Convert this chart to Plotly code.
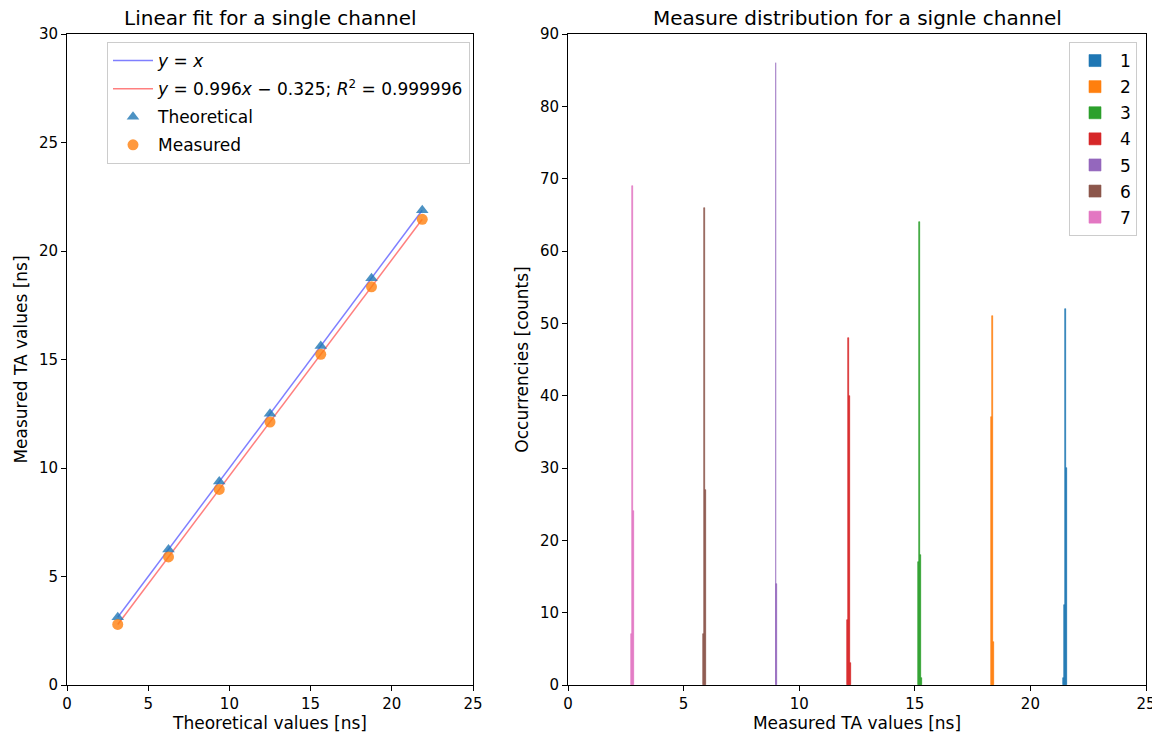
import plotly.graph_objects as go

# ---- Data ----
theoretical = [3.125, 6.25, 9.375, 12.5, 15.625, 18.75, 21.875]
measured = [2.79, 5.90, 9.01, 12.12, 15.24, 18.35, 21.46]
fit_slope = 0.996
fit_intercept = -0.325

channels = ["1", "2", "3", "4", "5", "6", "7"]
# histogram bins per channel: edges (ns) and counts
hist_edges = {
    "1": [21.405, 21.448, 21.49, 21.52, 21.58],
    "2": [18.275, 18.333, 18.362, 18.405],
    "3": [15.145, 15.203, 15.217, 15.275, 15.319],
    "4": [12.057, 12.10, 12.14, 12.20, 12.23],
    "5": [8.985, 9.014, 9.057],
    "6": [5.855, 5.898, 5.942, 5.971],
    "7": [2.725, 2.783, 2.812, 2.84],
}
hist_counts = {
    "1": [1, 11, 52, 30],
    "2": [37, 51, 6],
    "3": [17, 64, 18, 1],
    "4": [9, 48, 40, 3],
    "5": [86, 14],
    "6": [7, 66, 27],
    "7": [7, 69, 24],
}
colors = ["#1f77b4", "#ff7f0e", "#2ca02c", "#d62728", "#9467bd", "#8c564b", "#e377c2"]

FONT = "DejaVu Sans"
OFF = 8  # page body margin
W, H = 1160 - OFF, 742 - OFF
ML, MR, MT, MB = 67 - OFF, 14, 34 - OFF, 57
PW, PH = W - ML - MR, H - MT - MB


def px_x(px):
    return (px - OFF - ML) / PW


def px_y(py):
    return 1 - (py - OFF - MT) / PH


fig = go.Figure()

x0, x1 = theoretical[0], theoretical[-1]
fig.add_trace(go.Scatter(x=[x0, x1], y=[x0, x1], mode="lines",
                         line=dict(color="rgba(0,0,255,0.5)", width=1.5),
                         name="<i>y</i> = <i>x</i>", legend="legend", legendgroup="a",
                         xaxis="x", yaxis="y"))
fig.add_trace(go.Scatter(x=[x0, x1], y=[fit_slope * x0 + fit_intercept, fit_slope * x1 + fit_intercept],
                         mode="lines", line=dict(color="rgba(255,0,0,0.5)", width=1.5),
                         name="<i>y</i> = 0.996<i>x</i> − 0.325; <i>R</i><sup>2</sup> = 0.999996",
                         legend="legend", legendgroup="b", xaxis="x", yaxis="y"))
fig.add_trace(go.Scatter(x=theoretical, y=theoretical, mode="markers",
                         marker=dict(symbol="triangle-up", size=11, color="rgba(31,119,180,0.8)"),
                         name="Theoretical", legend="legend", legendgroup="c", xaxis="x", yaxis="y"))
fig.add_trace(go.Scatter(x=theoretical, y=measured, mode="markers",
                         marker=dict(symbol="circle", size=11, color="rgba(255,127,14,0.8)"),
                         name="Measured", legend="legend", legendgroup="d", xaxis="x", yaxis="y"))

for ch, col in zip(channels, colors):
    e = hist_edges[ch]
    c = hist_counts[ch]
    centers = [(e[i] + e[i + 1]) / 2 for i in range(len(c))]
    widths = [e[i + 1] - e[i] for i in range(len(c))]
    fig.add_trace(go.Bar(x=centers, y=c, width=widths,
                         marker=dict(color=col, line=dict(width=0.6, color=col)),
                         name=ch, legend="legend2", legendgroup="h" + ch, xaxis="x2", yaxis="y2"))

axis_common = dict(showline=True, linecolor="black", linewidth=1, mirror=True,
                   ticks="outside", ticklen=5, tickcolor="black", showgrid=False,
                   zeroline=False, automargin=False,
                   tickfont=dict(family=FONT, size=15, color="black"))

fig.update_layout(
    width=W, height=H, margin=dict(l=ML, r=MR, t=MT, b=MB),
    paper_bgcolor="white", plot_bgcolor="white",
    font=dict(family=FONT, size=15, color="black"),
    barmode="overlay", bargap=0,
    xaxis=dict(domain=[0, px_x(473)], range=[0, 25], dtick=5, anchor="y",
               title=dict(text="Theoretical values [ns]", standoff=2, font=dict(size=17)), **axis_common),
    yaxis=dict(domain=[0, 1], range=[0, 30], dtick=5, anchor="x",
               title=dict(text="Measured TA values [ns]", standoff=6, font=dict(size=17)), **axis_common),
    xaxis2=dict(domain=[px_x(568), 1], range=[0, 25], dtick=5, anchor="y2",
                title=dict(text="Measured TA values [ns]", standoff=2, font=dict(size=17)), **axis_common),
    yaxis2=dict(domain=[0, 1], range=[0, 90], dtick=10, anchor="x2",
                title=dict(text="Occurrencies [counts]", standoff=6, font=dict(size=17)), **axis_common),
    legend=dict(x=px_x(107), y=px_y(42), xanchor="left", yanchor="top",
                bordercolor="#cccccc", borderwidth=1, bgcolor="rgba(255,255,255,0.8)",
                font=dict(family=FONT, size=17), traceorder="grouped", tracegroupgap=3,
                itemwidth=40),
    legend2=dict(x=px_x(1137), y=px_y(42), xanchor="right", yanchor="top",
                 bordercolor="#cccccc", borderwidth=1, bgcolor="rgba(255,255,255,0.8)",
                 font=dict(family=FONT, size=17), traceorder="grouped", tracegroupgap=1,
                 itemwidth=40),
    annotations=[
        dict(text="Linear fit for a single channel", x=px_x((67 + 473) / 2), y=px_y(18),
             xref="paper", yref="paper", xanchor="center", yanchor="middle",
             showarrow=False, font=dict(family=FONT, size=20)),
        dict(text="Measure distribution for a signle channel", x=px_x((568 + 1146) / 2), y=px_y(18),
             xref="paper", yref="paper", xanchor="center", yanchor="middle",
             showarrow=False, font=dict(family=FONT, size=20)),
    ],
)

fig.write_html("out.html")
